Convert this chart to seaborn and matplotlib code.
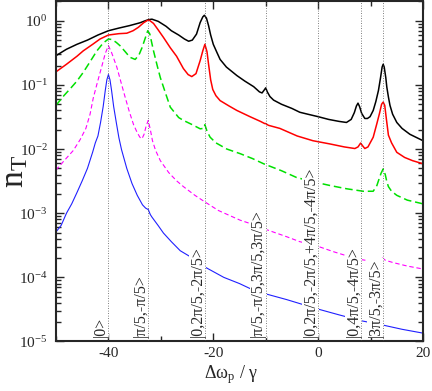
import numpy as np
import pandas as pd
import matplotlib
matplotlib.use("Agg")
import matplotlib.pyplot as plt
import matplotlib.ticker as mticker
import matplotlib.transforms as mtransforms
import seaborn as sns

# resonance positions and their labels
res_x = [-40.0, -32.36, -21.57, -10.0, 0.0, 8.24, 12.36]
res_labels = ["|0>", "|\u03c0/5,-\u03c0/5>", "|0,2\u03c0/5,-2\u03c0/5>",
              "|\u03c0/5,-\u03c0/5,3\u03c0/5,3\u03c0/5>",
              "|0,2\u03c0/5,-2\u03c0/5,+4\u03c0/5,-4\u03c0/5>",
              "|0,4\u03c0/5,-4\u03c0/5>", "|3\u03c0/5,-3\u03c0/5>"]

# black curve
black_x = [-50, -48, -46, -44, -42, -40, -38, -36, -34, -33, -32.4, -31.7, -30.5, -29, -28,
           -26.6, -25.5, -24.7, -24, -23.2, -22.5, -22, -21.7, -21.3, -20.9, -20.5, -20,
           -19.3, -18.7, -17.5, -15.5, -14, -12.3, -11.2, -10.7, -10.3, -10, -9.7, -9.2,
           -8.5, -7, -5, -3.5, -2, 0, 2, 4, 5.4, 6.3, 6.9, 7.3, 7.6, 7.9, 8.3, 8.9, 9.4,
           9.9, 10.5, 11.0, 11.5, 11.9, 12.2, 12.4, 12.6, 12.9, 13.1, 13.4, 13.7, 14.2, 15,
           16, 17.5, 20]
black_y = [0.286, 0.36, 0.43, 0.50, 0.60, 0.70, 0.77, 0.84, 0.93, 1.0, 1.04, 1.06, 0.98,
           0.82, 0.70, 0.60, 0.52, 0.48, 0.50, 0.62, 0.94, 1.15, 1.22, 1.1, 0.84, 0.6,
           0.43, 0.32, 0.25, 0.19, 0.14, 0.115, 0.094, 0.078, 0.075, 0.083, 0.09, 0.078,
           0.066, 0.058, 0.050, 0.043, 0.0375, 0.035, 0.032, 0.029, 0.027, 0.026, 0.029,
           0.037, 0.047, 0.052, 0.046, 0.036, 0.030, 0.030, 0.032, 0.040, 0.055, 0.082,
           0.13, 0.19, 0.21, 0.19, 0.13, 0.092, 0.065, 0.048, 0.035, 0.026, 0.021, 0.017,
           0.0135]

# red curve
red_x = [-50, -48, -46, -44.8, -43, -41.6, -40, -38, -36.5, -35.3, -34.3, -33.3, -32.6,
         -32.2, -31.4, -30.5, -29.5, -28.2, -27, -25.7, -24.8, -24.1, -23.3, -22.5, -22,
         -21.6, -21.2, -20.9, -20.5, -20.1, -19.5, -18.7, -17, -15.5, -13, -11, -10.2,
         -10, -9.5, -7.3, -4, -1, 2.3, 5, 7, 7.6, 8.1, 8.5, 8.9, 9.5, 10.5, 11.2, 11.7,
         12.1, 12.4, 12.7, 13.0, 13.4, 14, 15, 16.5, 18, 20]
red_y = [0.16, 0.21, 0.28, 0.34, 0.43, 0.52, 0.60, 0.63, 0.64, 0.70, 0.79, 0.93, 1.01,
         1.02, 0.91, 0.72, 0.55, 0.38, 0.28, 0.18, 0.145, 0.135, 0.15, 0.24, 0.34, 0.43,
         0.33, 0.21, 0.12, 0.085, 0.068, 0.057, 0.047, 0.040, 0.032, 0.027, 0.025, 0.025,
         0.0235, 0.021, 0.016, 0.0135, 0.012, 0.0108, 0.0102, 0.0108, 0.0124, 0.0112,
         0.0102, 0.0108, 0.0153, 0.025, 0.036, 0.050, 0.054, 0.048, 0.030, 0.0165, 0.0125,
         0.0089, 0.0074, 0.0066, 0.0059]

# green dashed curve
green_x = [-50, -48.5, -47.3, -46, -44.8, -43.5, -42.2, -41, -40, -39.3, -38.5, -37.8,
           -36.8, -35.9, -34.9, -34.2, -33.6, -33, -32.5, -32.1, -31.4, -30.7, -30.1, -29,
           -28.2, -26.6, -25.7, -24, -22.5, -21.9, -21.6, -21.2, -20.6, -19.5, -17.4,
           -14.9, -12.5, -10.4, -7, -4.1, -1, 2.3, 5.5, 8.6, 10.5, 11.2, 11.5, 12.0, 12.4,
           12.8, 13.1, 13.4, 14, 15, 17, 20]
green_y = [0.048, 0.068, 0.087, 0.115, 0.157, 0.23, 0.34, 0.45, 0.52, 0.51, 0.46, 0.41,
           0.33, 0.27, 0.25, 0.29, 0.38, 0.53, 0.70, 0.62, 0.34, 0.2, 0.13, 0.07, 0.045,
           0.031, 0.028, 0.024, 0.0207, 0.021, 0.024, 0.019, 0.0153, 0.0125, 0.010, 0.0085,
           0.0071, 0.0059, 0.0046, 0.0036, 0.0031, 0.0027, 0.0024, 0.0022, 0.0022, 0.0027,
           0.0032, 0.0042, 0.0049, 0.0040, 0.0031, 0.0026, 0.0022, 0.0019, 0.0016, 0.0014]

# magenta dashed curve
mag_x = [-50, -48.3, -46.7, -45.4, -44.3, -43.5, -42.9, -42.1, -41.3, -40.6, -40, -39.4,
         -38.4, -37.6, -36.8, -36, -35.2, -34.5, -34, -33.6, -33.2, -32.8, -32.4, -32.0,
         -31.6, -31, -30.1, -28.5, -27, -25.7, -23.5, -21.6, -19, -14.9, -12, -10, -6,
         -3.5, -0.3, 3, 6, 8, 10, 11.5, 12.3, 12.8, 14.3, 17, 20]
mag_y = [0.0047, 0.0068, 0.0095, 0.014, 0.021, 0.035, 0.062, 0.11, 0.19, 0.31, 0.41, 0.32,
         0.19, 0.11, 0.064, 0.038, 0.024, 0.018, 0.0153, 0.0145, 0.017, 0.023, 0.028, 0.020,
         0.0135, 0.0095, 0.0066, 0.0043, 0.0032, 0.0026, 0.0019, 0.0015, 0.0011, 7.8e-4,
         6.5e-4, 5.6e-4, 4.3e-4, 3.6e-4, 3.1e-4, 2.5e-4, 2.1e-4, 1.9e-4, 1.8e-4, 1.85e-4,
         2.0e-4, 1.85e-4, 1.7e-4, 1.5e-4, 1.35e-4]

# blue curve
blue_x = [-50, -49, -48, -47, -46, -45, -44, -43, -42.5, -42, -41.5, -41, -40.6, -40.3,
          -40, -39.7, -39.4, -39, -38.5, -38, -37.5, -36.5, -35.5, -34.5, -33.5, -32.9,
          -32.4, -32.0, -31.7, -30.5, -29.5, -28, -26.3, -24.4, -21.6, -18, -15, -13,
          -9.9, -6, -3.5, 0, 4, 8.3, 12.4, 16, 20]
blue_y = [5.1e-4, 6.5e-4, 1.0e-3, 1.4e-3, 2.1e-3, 3.2e-3, 5.0e-3, 9.0e-3, 0.0125, 0.016,
          0.026, 0.046, 0.082, 0.12, 0.145, 0.12, 0.082, 0.046, 0.026, 0.015, 0.0098, 0.005,
          0.0029, 1.9e-3, 1.35e-3, 1.2e-3, 1.14e-3, 9.5e-4, 8.7e-4, 6.4e-4, 4.9e-4, 3.6e-4,
          2.6e-4, 2.1e-4, 1.45e-4, 1.0e-4, 8e-5, 6.7e-5, 5.5e-5, 4.5e-5, 3.9e-5, 3.2e-5,
          2.6e-5, 2.1e-5, 1.8e-5, 1.55e-5, 1.35e-5]

sns.set_style("ticks")
plt.rcParams["font.family"] = ["Liberation Serif", "DejaVu Serif"]
plt.rcParams["mathtext.fontset"] = "stix"
plt.rcParams["axes.unicode_minus"] = False

fig = plt.figure(figsize=(4.32, 3.91), dpi=100)
ax = fig.add_axes([0.1296, 0.1266, 0.8496, 0.8696])

curves = [
    (black_x, black_y, "black", 1.1, "-"),
    (red_x, red_y, "#ff0000", 1.1, "-"),
    (green_x, green_y, "#00e000", 1.1, (0, (5, 2.5))),
    (mag_x, mag_y, "#ff00ff", 0.8, (0, (4, 2.5))),
    (blue_x, blue_y, "#2020ff", 0.8, "-"),
]
for xs, ys, col, lw, ls in curves:
    df = pd.DataFrame({"x": xs, "y": ys})
    sns.lineplot(data=df, x="x", y="y", color=col, lw=lw, linestyle=ls,
                 ax=ax, errorbar=None, sort=False, zorder=2)

ax.set_yscale("log")
ax.set_xlim(-50, 20)
ax.set_ylim(1e-5, 2)

for xv, lab in zip(res_x, res_labels):
    ax.axvline(xv, color="#555555", lw=0.6, linestyle=(0, (1, 2)), zorder=5)
    tr = mtransforms.offset_copy(ax.get_xaxis_transform(), fig=fig, x=0.5, y=0,
                                 units="dots")
    ax.text(xv, 0.012, lab, transform=tr, rotation=90, ha="right", va="bottom",
            fontsize=11.5, zorder=4,
            bbox=dict(facecolor="white", edgecolor="none", pad=0.3))

ax.xaxis.set_major_locator(mticker.MultipleLocator(20))
ax.xaxis.set_minor_locator(mticker.MultipleLocator(10))
ax.yaxis.set_major_locator(mticker.LogLocator(base=10))
ax.yaxis.set_minor_locator(mticker.LogLocator(base=10, subs=np.arange(2, 10)))
ax.yaxis.set_minor_formatter(mticker.NullFormatter())
ax.tick_params(which="both", direction="in", top=True, right=True, width=1,
               labelsize=11)
ax.tick_params(which="major", length=6)
ax.tick_params(which="minor", length=3.5)
ax.tick_params(axis="y", pad=6)
ax.tick_params(axis="x", pad=4)
for sp in ax.spines.values():
    sp.set_linewidth(1.5)

ax.set_xlabel("\u0394\u03c9$_\\mathregular{p}$ / \u03b3", fontsize=13)
ax.set_ylabel("n$_\\mathregular{T}$", fontsize=24)
ax.xaxis.set_label_coords(0.477, -0.063)
ax.yaxis.set_label_coords(-0.07, 0.5)

fig.savefig("out.png", dpi=100)
